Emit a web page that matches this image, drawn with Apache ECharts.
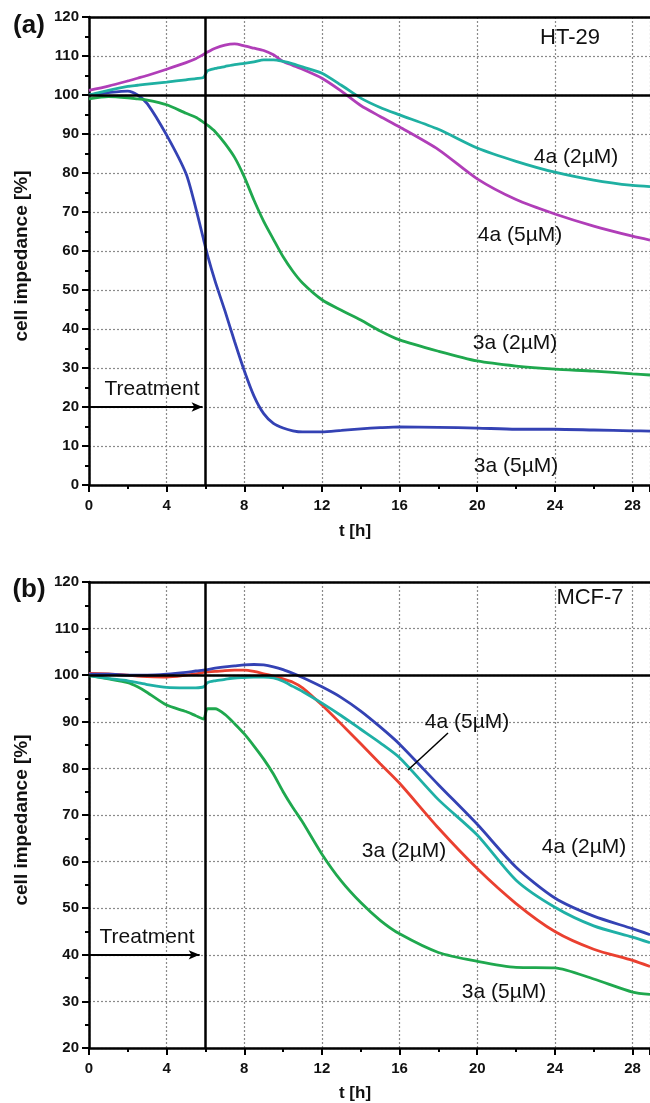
<!DOCTYPE html>
<html lang="en">
<head>
  <meta charset="UTF-8">
  <title>cell impedance</title>
  <script src="https://cdn.jsdelivr.net/npm/echarts@6/dist/echarts.min.js"></script>
  <style>
    html, body { margin: 0; padding: 0; background: #fff; }
    #chart { width: 650px; height: 1103px; }
  </style>
</head>
<body>
  <div id="chart"></div>
<script>
  // time points [h], shared by all curves
  const tH = [0, 1, 2, 2.5, 3, 4, 5, 5.5, 5.9, 6.1, 6.5, 7, 7.5, 8, 8.5, 9, 9.5, 10, 10.5, 11,
              12, 13, 14, 15, 16, 18, 20, 22, 24, 26, 28, 28.9];

  // (a) HT-29
  const ht_4a_5 = [101.2, 102.3, 103.6, 104.3, 105, 106.6, 108.3, 109.3, 110.4, 111, 112, 112.8, 113.1, 112.6, 112, 111.4, 110.3, 108.6, 107.6, 106.6,
                   104.3, 101, 97.3, 94.5, 91.8, 86, 78.5, 73.2, 69.5, 66.4, 63.8, 62.8];
  const ht_4a_2 = [100, 101.2, 102.2, 102.5, 102.8, 103.3, 103.9, 104.2, 104.5, 106.2, 106.8, 107.3, 107.8, 108.1, 108.5, 109, 109, 108.6, 108, 107.2,
                   105.6, 102.5, 99.2, 96.8, 94.9, 91.2, 86.4, 83, 80.2, 78.2, 76.8, 76.5];
  const ht_3a_2 = [99, 99.6, 99.3, 99, 98.7, 97.5, 95.3, 94.3, 93, 92.3, 90.6, 87.6, 84, 79, 73, 67.6, 63, 58.5, 54.8, 51.8,
                   47.5, 44.8, 42.3, 39.5, 37.2, 34.3, 31.8, 30.5, 29.7, 29.2, 28.5, 28.2];
  const ht_3a_5 = [100, 100.6, 101, 100, 97.8, 89.7, 79.8, 71, 63, 59, 52.2, 44.7, 36.8, 29.3, 22.8, 18.3, 15.8, 14.6, 13.9, 13.6,
                   13.6, 14, 14.4, 14.7, 14.9, 14.8, 14.6, 14.3, 14.3, 14.1, 13.9, 13.8];

  // (b) MCF-7
  const mcf_4a_2 = [100.2, 100.2, 100, 100, 100, 100.2, 100.6, 100.9, 101.1, 101.2, 101.5, 101.8, 102, 102.2, 102.3, 102.2, 101.8, 101.2, 100.4, 99.5,
                    97.5, 95.2, 92.3, 88.9, 85.2, 76.5, 68, 58.8, 52.2, 48.3, 45.6, 44.3];
  const mcf_4a_5 = [99.9, 99.3, 98.8, 98.4, 98, 97.4, 97.3, 97.3, 97.5, 98.4, 98.8, 99.1, 99.4, 99.5, 99.6, 99.6, 99.4, 98.7, 97.6, 96.5,
                    94, 91.3, 88.4, 85.5, 82.3, 73.3, 65.7, 56, 50.2, 46.2, 43.8, 42.6];
  const mcf_3a_2 = [100.4, 100.3, 100, 99.8, 99.7, 99.6, 100, 100.3, 100.6, 100.7, 100.8, 101, 101.1, 101.1, 100.8, 100.3, 99.8, 99.2, 98.5, 97.3,
                    93.6, 89.5, 85.3, 81, 76.8, 67.2, 58.5, 51, 45, 41.2, 38.8, 37.5];
  const mcf_3a_5 = [99.9, 99.2, 98.4, 97.5, 96.3, 93.6, 92.2, 91.3, 90.6, 92.8, 92.8, 91.6, 89.6, 87.4, 84.8, 82, 78.8, 75, 71.6, 68.5,
                    61.6, 55.8, 51.2, 47.4, 44.5, 40.5, 38.6, 37.3, 37.2, 34.8, 32, 31.5];

  const xTicks = [0, 4, 8, 12, 16, 20, 24, 28];

  const FONT = 'Liberation Sans, Arial, Helvetica, sans-serif';
  const pairs = (vals) => tH.map((t, i) => [t, vals[i]]);

  const chart = echarts.init(document.getElementById('chart'));

  function xAxisFor(gridIndex, pos) {
    const bottom = pos === 'bottom';
    return {
      type: 'value', gridIndex: gridIndex, position: pos,
      min: 0, max: 28.9, interval: 4,
      axisLine: { show: true, onZero: false, lineStyle: { color: '#000', width: 2.5 } },
      axisTick: { show: bottom, length: 7, lineStyle: { color: '#000', width: 2 } },
      minorTick: { show: bottom, splitNumber: 2, length: 4, lineStyle: { color: '#000', width: 2 } },
      axisLabel: {
        show: bottom, margin: 13, color: '#111', fontFamily: FONT, fontWeight: 'bold', fontSize: 15,
        formatter: v => xTicks.indexOf(v) >= 0 ? String(v) : '', showMaxLabel: false
      },
      splitLine: { show: bottom, lineStyle: { color: '#8a8a8a', width: 1.2, type: [2, 2] } }
    };
  }

  function yAxisFor(gridIndex, min) {
    return {
      type: 'value', gridIndex: gridIndex,
      min: min, max: 120, interval: 10,
      axisLine: { show: true, onZero: false, lineStyle: { color: '#000', width: 2.5 } },
      axisTick: { length: 7, lineStyle: { color: '#000', width: 2 } },
      minorTick: { show: true, splitNumber: 2, length: 4, lineStyle: { color: '#000', width: 2 } },
      axisLabel: { margin: 10, color: '#111', fontFamily: FONT, fontWeight: 'bold', fontSize: 15 },
      splitLine: { show: true, lineStyle: { color: '#8a8a8a', width: 1.2, type: [2, 2] } }
    };
  }

  function curve(name, vals, color, gi) {
    return {
      name: name, type: 'line', xAxisIndex: gi * 2, yAxisIndex: gi,
      data: pairs(vals), showSymbol: false, smooth: 0.25,
      lineStyle: { color: color, width: 2.8 }, z: 3
    };
  }

  function refLines(gi, arrowY, arrowEnd) {
    return {
      type: 'line', xAxisIndex: gi * 2, yAxisIndex: gi, data: [], z: 4,
      markLine: {
        silent: true, symbol: 'none', label: { show: false }, animation: false,
        lineStyle: { color: '#000', width: 2.5, type: 'solid' },
        data: [
          { yAxis: 100 },
          { xAxis: 6 },
          [
            { coord: [0, arrowY], symbol: 'none', lineStyle: { width: 2 } },
            { coord: [arrowEnd, arrowY], symbol: 'arrow', symbolSize: [7, 11] }
          ]
        ]
      }
    };
  }

  function txt(x, y, s, size, bold, rot) {
    return {
      type: 'text', x: x, y: y, rotation: rot || 0, z: 10,
      style: {
        text: s, fill: '#111', font: (bold ? 'bold ' : '') + size + 'px ' + FONT,
        align: 'center', verticalAlign: 'middle'
      }
    };
  }

  const option = {
    animation: false,
    backgroundColor: '#fff',
    grid: [
      { left: 89, top: 17, width: 561, height: 468 },
      { left: 89, top: 582, width: 561, height: 466 }
    ],
    xAxis: [xAxisFor(0, 'bottom'), xAxisFor(0, 'top'), xAxisFor(1, 'bottom'), xAxisFor(1, 'top')],
    yAxis: [yAxisFor(0, 0), yAxisFor(1, 20)],
    series: [
      curve('3a (5µM)', ht_3a_5, '#3442b4', 0),
      curve('3a (2µM)', ht_3a_2, '#1fa84e', 0),
      curve('4a (5µM)', ht_4a_5, '#b03eb8', 0),
      curve('4a (2µM)', ht_4a_2, '#1fb0a2', 0),
      refLines(0, 20, 5.85),
      curve('3a (5µM)', mcf_3a_5, '#1fa84e', 1),
      curve('3a (2µM)', mcf_3a_2, '#ea4030', 1),
      curve('4a (2µM)', mcf_4a_2, '#3442b4', 1),
      curve('4a (5µM)', mcf_4a_5, '#1fb0a6', 1),
      refLines(1, 40, 5.7)
    ],
    graphic: [
      txt(29, 26, '(a)', 26, true),
      txt(570, 38, 'HT-29', 22, false),
      txt(576, 157, '4a (2µM)', 21, false),
      txt(520, 235, '4a (5µM)', 21, false),
      txt(515, 343, '3a (2µM)', 21, false),
      txt(516, 466, '3a (5µM)', 21, false),
      txt(152, 389, 'Treatment', 21, false),
      txt(355, 531, 't [h]', 17, true),
      txt(22, 256, 'cell impedance [%]', 19, true, Math.PI / 2),

      txt(29, 590, '(b)', 26, true),
      txt(590, 598, 'MCF-7', 22, false),
      txt(467, 722, '4a (5µM)', 21, false),
      { type: 'line', z: 10, shape: { x1: 448, y1: 733, x2: 408, y2: 770 }, style: { stroke: '#000', lineWidth: 1.5 } },
      txt(404, 851, '3a (2µM)', 21, false),
      txt(584, 847, '4a (2µM)', 21, false),
      txt(504, 992, '3a (5µM)', 21, false),
      txt(147, 937, 'Treatment', 21, false),
      txt(355, 1093, 't [h]', 17, true),
      txt(22, 820, 'cell impedance [%]', 19, true, Math.PI / 2)
    ]
  };

  chart.setOption(option);
</script>
</body>
</html>
